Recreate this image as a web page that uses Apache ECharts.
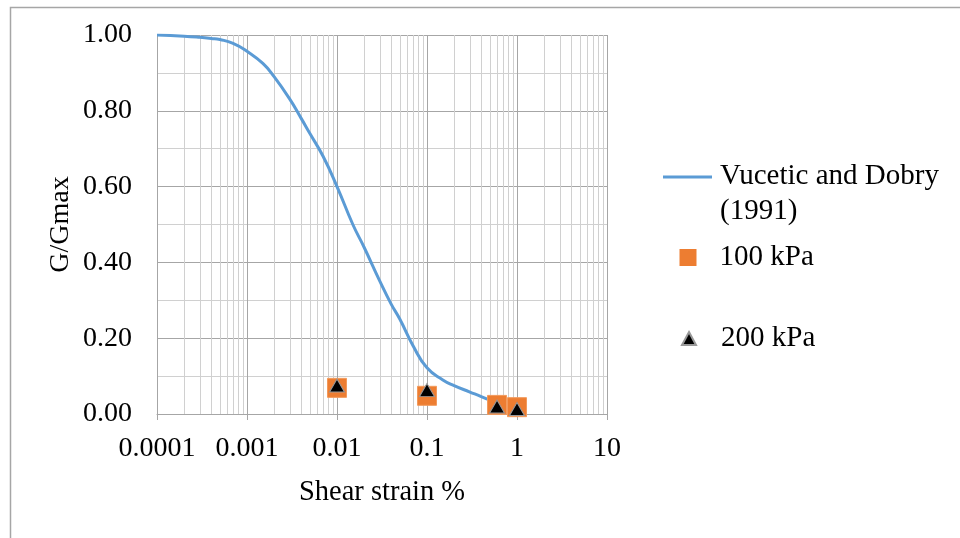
<!DOCTYPE html>
<html>
<head>
<meta charset="utf-8">
<script src="https://cdn.jsdelivr.net/npm/echarts@6/dist/echarts.min.js"></script>
<style>html,body{margin:0;padding:0;background:#fff}#c{width:960px;height:538px}</style>
</head>
<body>
<div id="c"></div>
<script>
// Data
var curveStrain = [0.0001, 0.0002, 0.0003, 0.0004, 0.0005, 0.0007, 0.001, 0.0015, 0.002, 0.003, 0.004, 0.005, 0.007, 0.01, 0.015, 0.02, 0.03, 0.04, 0.05, 0.07, 0.1, 0.15, 0.2, 0.3, 0.4, 0.5, 0.6];
var curveG = [1.0, 0.997, 0.994, 0.991, 0.988, 0.978, 0.957, 0.925, 0.89, 0.83, 0.78, 0.74, 0.68, 0.60, 0.50, 0.44, 0.35, 0.29, 0.25, 0.18, 0.122, 0.09, 0.075, 0.058, 0.046, 0.036, 0.028];
var strain100 = [0.01, 0.1, 0.6, 1];
var g100 = [0.069, 0.048, 0.024, 0.018];
var strain200 = [0.01, 0.1, 0.6, 1];
var g200 = [0.075, 0.063, 0.020, 0.013];
var xTickLabels = ['0.0001', '0.001', '0.01', '0.1', '1', '10'];
var yTickLabels = ['0.00', '0.20', '0.40', '0.60', '0.80', '1.00'];
var seriesNames = ['Vucetic and Dobry (1991)', '100 kPa', '200 kPa'];

function zip(a, b) { return a.map(function (v, i) { return [v, b[i]]; }); }

// minor vertical grid positions (2..9 within each decade)
var minorX = [];
for (var d = -4; d <= 0; d++) {
  for (var k = 2; k <= 9; k++) {
    minorX.push({ xAxis: parseFloat((k * Math.pow(10, d)).toPrecision(3)) });
  }
}

var FONT = '"Liberation Serif","Times New Roman",serif';
var chart = echarts.init(document.getElementById('c'), null, { renderer: 'canvas' });

var legendText = { fontFamily: FONT, fontSize: 29, color: '#000', lineHeight: 35 };

chart.setOption({
  animation: false,
  backgroundColor: '#fff',
  graphic: [{
    type: 'rect', left: 8, top: 5, silent: true,
    shape: { width: 1000, height: 600 },
    style: { fill: 'none', stroke: '#a6a6a6', lineWidth: 1.5 }
  }],
  grid: { left: 157, right: 353, top: 35, bottom: 124, containLabel: false },
  xAxis: {
    type: 'log', logBase: 10, min: 0.0001, max: 10,
    name: 'Shear strain %', nameLocation: 'middle', nameGap: 64,
    nameTextStyle: { fontFamily: FONT, fontSize: 28.5, color: '#000' },
    axisLine: { show: true, lineStyle: { color: '#a6a6a6', width: 1 } },
    axisTick: { show: true, length: 6, lineStyle: { color: '#a6a6a6' } },
    axisLabel: {
      fontFamily: FONT, fontSize: 28, color: '#000', margin: 21,
      formatter: function (v) {
        var idx = Math.round(Math.log10(v)) + 4;
        return xTickLabels[idx] !== undefined ? xTickLabels[idx] : '';
      }
    },
    splitLine: { show: true, lineStyle: { color: '#a6a6a6', width: 1 } }
  },
  yAxis: {
    type: 'value', min: 0, max: 1, interval: 0.2,
    name: 'G/Gmax', nameLocation: 'middle', nameGap: 82, nameRotate: 90,
    nameTextStyle: { fontFamily: FONT, fontSize: 28, color: '#000' },
    axisLine: { show: true, lineStyle: { color: '#a6a6a6', width: 1 } },
    axisTick: { show: false },
    axisLabel: {
      fontFamily: FONT, fontSize: 28, color: '#000', margin: 25,
      formatter: function (v) { return yTickLabels[Math.round(v / 0.2)]; }
    },
    splitLine: { show: true, lineStyle: { color: '#a6a6a6', width: 1 } },
    minorTick: { show: false, splitNumber: 2 },
    minorSplitLine: { show: true, lineStyle: { color: '#d0d0d0', width: 1 } }
  },
  legend: [
    {
      orient: 'vertical', padding: 0, itemGap: 0,
      left: 663, top: 159, itemWidth: 49, itemHeight: 37,
      itemStyle: { borderWidth: 0 },
      data: [{ name: seriesNames[0], icon: 'path://M0,0L49,0L49,3L0,3Z M0,37L0,37L0,37Z' }],
      formatter: function () { return 'Vucetic and Dobry\n(1991)'; },
      textStyle: Object.assign({}, legendText, { padding: [0, 0, 0, 3] })
    },
    {
      orient: 'vertical', padding: 0, itemGap: 0,
      left: 679.5, top: 240, itemWidth: 17, itemHeight: 17,
      itemStyle: { borderWidth: 0 },
      data: [{ name: seriesNames[1], icon: 'rect' }],
      textStyle: Object.assign({}, legendText, { padding: [0, 0, 0, 18] })
    },
    {
      orient: 'vertical', padding: 0, itemGap: 0,
      left: 681, top: 321, itemWidth: 14, itemHeight: 13,
      data: [{ name: seriesNames[2], icon: 'triangle' }],
      textStyle: Object.assign({}, legendText, { padding: [0, 0, 0, 20] })
    }
  ],
  series: [
    {
      name: seriesNames[0], type: 'line', smooth: 0.5,
      showSymbol: false, symbol: 'none',
      data: zip(curveStrain, curveG), z: 3,
      lineStyle: { color: '#5B9BD5', width: 3 },
      itemStyle: { color: '#5B9BD5' },
      markLine: {
        silent: true, precision: 10, symbol: ['none', 'none'], label: { show: false },
        lineStyle: { color: '#d0d0d0', width: 1, type: 'solid' },
        emphasis: { disabled: true },
        data: minorX, z: 1
      }
    },
    {
      name: seriesNames[1], type: 'scatter', symbol: 'rect', symbolSize: 19,
      data: zip(strain100, g100), z: 4,
      itemStyle: { color: '#ED7D31', opacity: 1, borderColor: '#F29A5C', borderWidth: 1 }
    },
    {
      name: seriesNames[2], type: 'scatter', symbol: 'triangle', symbolSize: [15, 13],
      data: zip(strain200, g200), z: 5,
      itemStyle: { color: '#000', opacity: 1, borderColor: '#999', borderWidth: 1 }
    }
  ]
});
</script>
</body>
</html>
